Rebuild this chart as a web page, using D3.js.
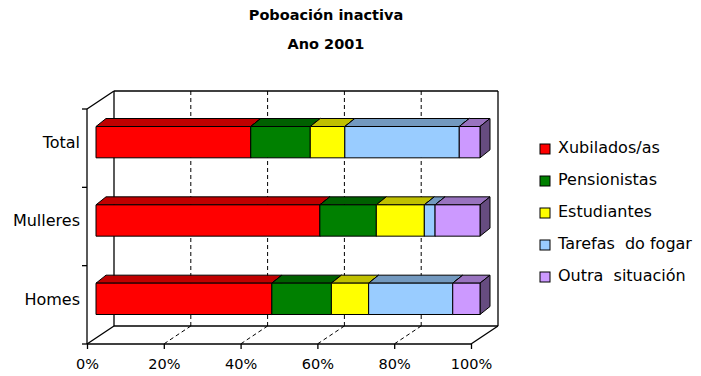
<!DOCTYPE html>
<html><head><meta charset="utf-8">
<script src="https://cdn.jsdelivr.net/npm/d3@7"></script>
<style>body{margin:0;background:#fff} text{font-family:"DejaVu Sans",Verdana,sans-serif;fill:#000}</style>
</head><body><svg id="c" width="701" height="376"></svg>
<script>
const categories = ["Total","Mulleres","Homes"];
const seriesNames = ["Xubilados/as","Pensionistas","Estudiantes","Tarefas  do fogar","Outra  situación"];
const xubilados = [40.3, 58.3, 45.8];
const pensionistas = [15.5, 14.7, 15.5];
const estudiantes = [9.0, 12.5, 9.7];
const tarefas = [29.8, 2.8, 21.9];
const outra = [5.4, 11.7, 7.1];
const xTicks = [0,20,40,60,80,100];
const titleLines = ["Poboación inactiva","Ano 2001"];
const colors = ["#FF0000","#008000","#FFFF00","#99CCFF","#CC99FF"];
const topColors = ["#C00000","#006000","#C0C000","#7399BF","#9973BF"];
const sideColors = ["#800000","#004000","#808000","#4C6680","#664C80"];

const seriesVals = [xubilados, pensionistas, estudiantes, tarefas, outra];
const rows = categories.map((c,i)=>{const o={cat:c}; seriesNames.forEach((s,j)=>o[s]=seriesVals[j][i]); return o;});
const stacked = d3.stack().keys(seriesNames).offset(d3.stackOffsetExpand)(rows);

const svg = d3.select("#c");
const x = d3.scaleLinear().domain([0,100]).range([87,471]);
const y = d3.scaleBand().domain(categories).range([109,344]).paddingInner(0.6).paddingOuter(0.3);
const D = {dx:27, dy:-18};      // chart depth
const B = {dx:9, dy:-6};        // bar front-plane offset
const T = {dx:10, dy:-8};       // bar thickness (depth)
const yTop = y.range()[0], yBot = y.range()[1];

// title
svg.append("g").selectAll("text").data(titleLines).join("text")
  .attr("x",326).attr("y",(d,i)=>20+i*29).attr("text-anchor","middle")
  .style("font-weight","bold").style("font-size","14.5px").text(d=>d);

// walls
const wall = svg.append("g").attr("stroke","#000").attr("fill","none").attr("stroke-width",1.3);
const line = (x1,y1,x2,y2)=>wall.append("line").attr("x1",x1).attr("y1",y1).attr("x2",x2).attr("y2",y2);
// gridlines (dashed) on back wall and floor
const grid = svg.append("g").attr("stroke","#000").attr("stroke-dasharray","4,3").attr("stroke-width",1);
grid.selectAll("line.v").data(xTicks.slice(1,-1)).join("line").attr("class","v")
  .attr("x1",d=>x(d)+D.dx).attr("x2",d=>x(d)+D.dx).attr("y1",yTop+D.dy).attr("y2",yBot+D.dy);
grid.selectAll("line.f").data(xTicks.slice(1,-1)).join("line").attr("class","f")
  .attr("x1",d=>x(d)+D.dx).attr("x2",d=>x(d)).attr("y1",yBot+D.dy).attr("y2",yBot);
// back wall
line(x(0)+D.dx, yTop+D.dy, x(100)+D.dx, yTop+D.dy);
line(x(0)+D.dx, yTop+D.dy, x(0)+D.dx, yBot+D.dy);
line(x(100)+D.dx, yTop+D.dy, x(100)+D.dx, yBot+D.dy);
line(x(0)+D.dx, yBot+D.dy, x(100)+D.dx, yBot+D.dy);
// left wall
line(x(0), yTop, x(0)+D.dx, yTop+D.dy);
line(x(0), yBot, x(0)+D.dx, yBot+D.dy);
// floor
line(x(100), yBot, x(100)+D.dx, yBot+D.dy);
line(x(0), yBot, x(100), yBot);
line(x(0), yTop, x(0), yBot);

// bars
const bars = svg.append("g").attr("stroke","#000").attr("stroke-width",1).attr("stroke-linejoin","round");
stacked.forEach((ser,si)=>{
  ser.forEach((d,ci)=>{
    const x0 = x(d[0]*100)+B.dx, x1 = x(d[1]*100)+B.dx;
    const y0 = y(categories[ci])+B.dy, h = y.bandwidth();
    const g = bars.append("g");
    g.append("path").attr("fill",topColors[si])
      .attr("d",`M${x0},${y0}L${x0+T.dx},${y0+T.dy}L${x1+T.dx},${y0+T.dy}L${x1},${y0}Z`);
    g.append("path").attr("fill",sideColors[si])
      .attr("d",`M${x1},${y0}L${x1+T.dx},${y0+T.dy}L${x1+T.dx},${y0+h+T.dy}L${x1},${y0+h}Z`);
    g.append("rect").attr("fill",colors[si]).attr("x",x0).attr("y",y0).attr("width",x1-x0).attr("height",h);
  });
});

// left axis ticks at category boundaries
const bounds = categories.map(c=>y(c)-y.step()*y.paddingInner()/2).concat([yBot]);
bounds[0]=yTop;
svg.append("g").attr("stroke","#000").attr("stroke-width",1.3).selectAll("line").data(bounds).join("line")
  .attr("x1",x(0)-5).attr("x2",x(0)).attr("y1",d=>d).attr("y2",d=>d);
svg.append("g").selectAll("text").data(categories).join("text")
  .attr("x",80).attr("y",d=>y(d)+B.dy+y.bandwidth()/2).attr("dy","0.36em")
  .attr("text-anchor","end").style("font-size","16px").text(d=>d);

// bottom axis
const ax = svg.append("g").attr("transform",`translate(0,${yBot})`)
  .call(d3.axisBottom(x).tickValues(xTicks).tickFormat(d=>d+"%").tickSize(5).tickSizeOuter(0));
ax.select(".domain").remove();
ax.selectAll(".tick line").attr("stroke","#000").attr("stroke-width",1.3);
ax.selectAll(".tick text").attr("y",15).style("font-size","14.5px").style("font-family",'"DejaVu Sans",sans-serif').attr("fill","#000");

// legend
const lg = svg.append("g").selectAll("g").data(seriesNames).join("g")
  .attr("transform",(d,i)=>`translate(540,${153+i*32})`);
lg.append("rect").attr("x",0).attr("y",-9).attr("width",10).attr("height",10)
  .attr("fill",(d,i)=>colors[i]).attr("stroke","#000").attr("stroke-width",1);
lg.append("text").attr("x",18).attr("y",0).style("font-size","16px").style("white-space","pre").text(d=>d);
</script></body></html>
